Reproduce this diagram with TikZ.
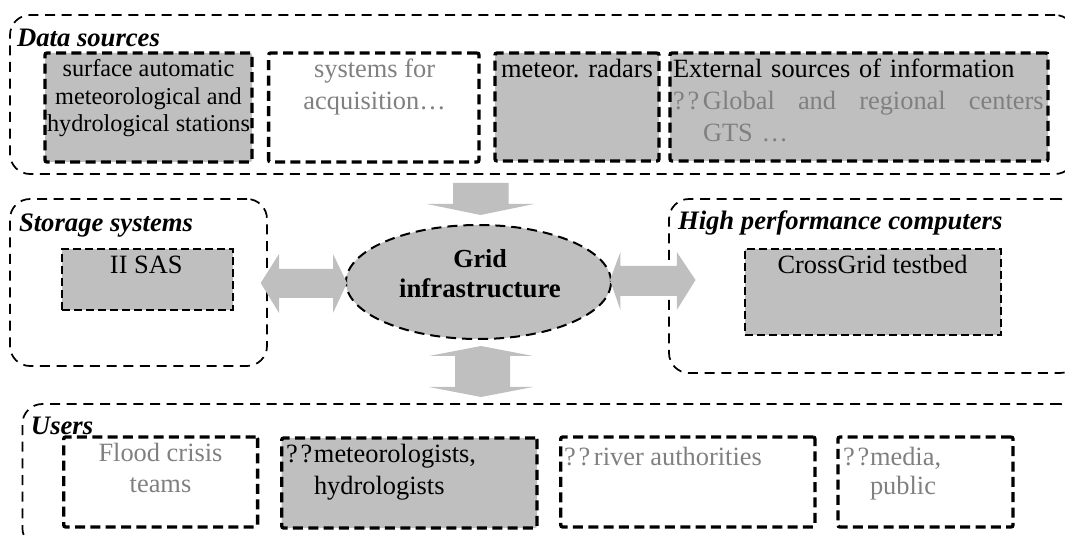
\documentclass[tikz,border=0pt]{standalone}
\usepackage{fontspec}
\setmainfont{Liberation Serif}
\usetikzlibrary{shapes.geometric}
\definecolor{panelgray}{HTML}{BFBFBF}
\definecolor{mutedtext}{HTML}{808080}
\newcommand{\fl}{\rule{0pt}{14pt}}
\newcommand{\qq}{\makebox[0pt][l]{?\hspace{2.2pt}?}}
\newcommand{\pxbox}[6][]{%
  \node[#1,minimum width={(#5-#3)*0.75pt},minimum height={(#6-#4)*0.75pt}] (#2) at ({(#3+#5)/2},{(#4+#6)/2}) {};}
\tikzset{
  x=0.75pt,y=-0.75pt,
  outerbox/.style={draw=black,line width=1.3pt,dash pattern=on 7.5pt off 5pt,rounded corners=15pt,inner sep=0,outer sep=0},
  thickbox/.style={draw=black,line width=2.5pt,dash pattern=on 7.5pt off 4pt,rounded corners=1.5pt,inner sep=0,outer sep=0},
  thinbox/.style={draw=black,line width=1.1pt,dash pattern=on 6.2pt off 2.8pt,inner sep=0,outer sep=0},
  filled/.style={fill=panelgray},
  blockarrow/.style={fill=panelgray,draw=none},
  lbl/.style={font=\fontsize{19.8}{#1}\selectfont,inner sep=0,outer sep=0,anchor=north,align=center},
  lbl/.default=24,
  leftlbl/.style={font=\fontsize{19.8}{#1}\selectfont,inner sep=0,outer sep=0,anchor=north west,align=left},
  leftlbl/.default=24,
  title/.style={font=\fontsize{20}{22}\selectfont\bfseries\itshape,inner sep=0,outer sep=0,anchor=base west},
  muted/.style={text=mutedtext},
}
\begin{document}
\begin{tikzpicture}
\useasboundingbox (0,0) rectangle (1065,538);
\clip (0,0) rectangle (1065,538);
% outer groups
\pxbox[outerbox]{dataGroup}{10}{15}{1075}{174}
\pxbox[outerbox]{storageGroup}{10}{199}{267}{366}
\pxbox[outerbox]{hpcGroup}{669}{199}{1080}{373}
\pxbox[outerbox]{usersGroup}{22.4}{404}{1080}{548}
% inner boxes
\pxbox[thickbox,filled]{stations}{45}{53}{252}{162}
\pxbox[thickbox]{acquisition}{268.6}{53}{479}{162}
\pxbox[thickbox,filled]{radars}{495}{53}{659}{161}
\pxbox[thickbox,filled]{external}{670}{53}{1048}{161}
\pxbox[thinbox,filled]{sas}{62}{249}{233}{310}
\pxbox[thinbox,filled]{testbed}{745}{249}{1001}{335}
\pxbox[thickbox]{flood}{63.7}{437}{257.6}{527}
\pxbox[thickbox,filled]{meteo}{281.7}{438}{537}{528}
\pxbox[thickbox]{river}{560.7}{437}{815}{527}
\pxbox[thickbox]{media}{838}{437}{1013}{527}
% central ellipse
\node[ellipse,draw=black,fill=panelgray,line width=1.5pt,dash pattern=on 7.5pt off 4.5pt,inner sep=0,outer sep=0,minimum width=198.75pt,minimum height=85.5pt] (grid) at (478.5,282) {};
% block arrows
\coordinate (arrowDown) at (480.5,215);
\fill[blockarrow,shift={(arrowDown)}] (-27.5,-32) -- (28,-32) -- (28,-11) -- (53.5,-11) -- (0,0) -- (-53.5,-11) -- (-27.5,-11) -- cycle;
\coordinate (arrowVert) at (481,346);
\fill[blockarrow,shift={(arrowVert)}] (0,0) -- (52,10) -- (29,10) -- (29,41) -- (52,41) -- (0,51) -- (-52,41) -- (-26,41) -- (-26,10) -- (-52,10) -- cycle;
\coordinate (arrowLeft) at (260.7,283);
\fill[blockarrow,shift={(arrowLeft)}] (0,0) -- (18.3,-29) -- (18.3,-14) -- (72.3,-14) -- (72.3,-29) -- (86.3,0) -- (72.3,30) -- (72.3,15) -- (18.3,15) -- (18.3,30) -- cycle;
\coordinate (arrowRight) at (610,280);
\fill[blockarrow,shift={(arrowRight)}] (0,0) -- (10.4,-28) -- (10.4,-14) -- (66.8,-14) -- (66.8,-28) -- (85.5,0) -- (66.8,30) -- (66.8,16) -- (10.4,16) -- (10.4,30) -- cycle;
% group titles
\node[title] (tData) at (17,47) {Data sources};
\node[title] (tStorage) at (19,232) {Storage systems};
\node[title] (tHpc) at (678,230) {High performance computers};
\node[title] (tUsers) at (31,435) {Users};
% texts
\node[lbl=20.6,font=\fontsize{18.2}{20.6}\selectfont] (lStations) at (148.5,58.3) {\fl surface automatic\\meteorological and\\hydrological stations};
\node[lbl,muted] (lAcq) at (374.6,59.3) {\fl systems for\\acquisition…};
\node[lbl] (lRadars) at (577,59.3) {\fl meteor. radars};
\node[leftlbl,text width=278pt] (lExt) at (673,59.3) {\fl External sources of information\\\textcolor{mutedtext}{\qq\hspace{22.5pt}Global\hfill and\hfill regional\hfill centers}\\\textcolor{mutedtext}{\hspace{22.5pt}GTS …}};
\node[lbl] (lSas) at (146.3,255.3) {\fl II SAS};
\node[lbl] (lTestbed) at (872.5,255.3) {\fl CrossGrid testbed};
\node[lbl=22.5,font=\fontsize{19.5}{22.5}\selectfont\bfseries] (lGrid) at (480,249) {\fl Grid\\{\fontsize{20.1}{22.5}\selectfont infrastructure}};
\node[lbl=23.25,muted] (lFlood) at (160.5,443.3) {\fl Flood crisis\\teams};
\node[leftlbl] (lMeteo) at (286,444.3) {\fl\qq\hspace{21pt}meteorologists,\\\hspace{21pt}hydrologists};
\node[leftlbl,muted] (lRiver) at (564,447.3) {\fl\qq\hspace{22.5pt}river authorities};
\node[leftlbl=21.75,muted] (lMedia) at (843,447.3) {\fl\qq\hspace{20.25pt}media,\\\hspace{20.25pt}public};
\end{tikzpicture}
\end{document}
